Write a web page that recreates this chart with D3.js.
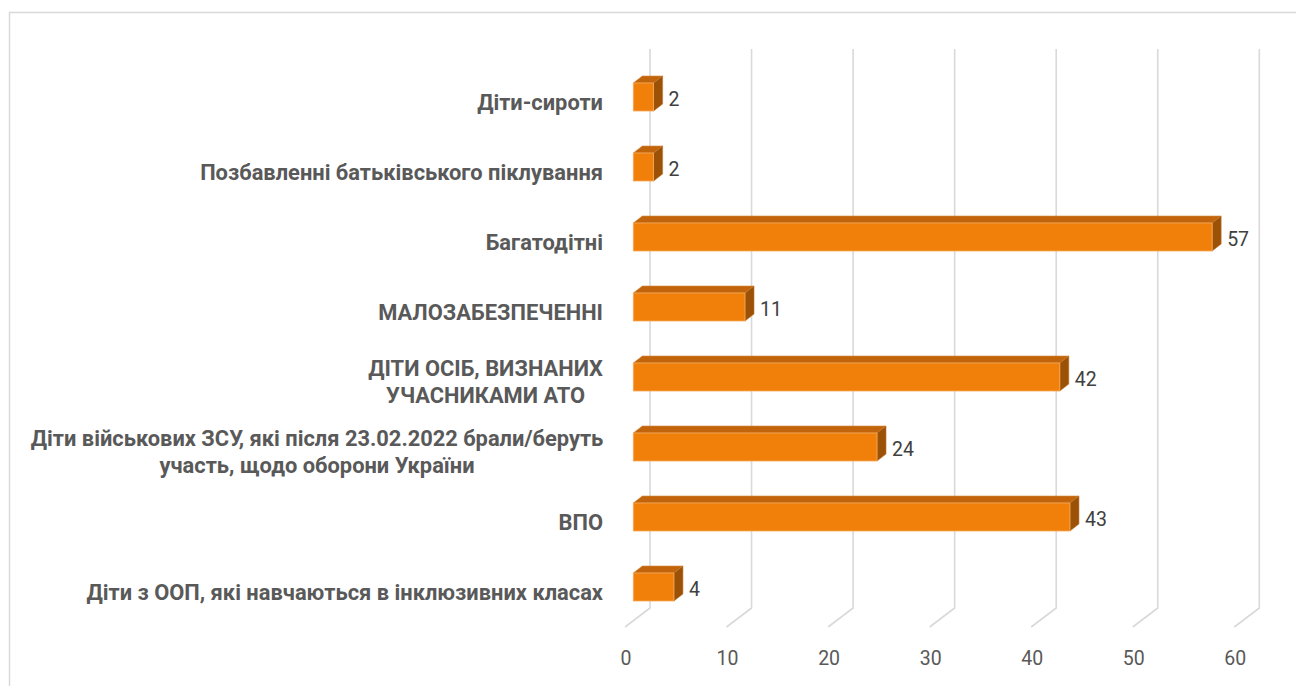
<!DOCTYPE html>
<html>
<head>
<meta charset="utf-8">
<script src="https://cdn.jsdelivr.net/npm/d3@7"></script>
<style>
    body { margin: 0; background: #fff; }
    svg { display: block; font-family: Roboto, "Open Sans", "Noto Sans", sans-serif; }
</style>
</head>
<body>
<div id="chart"></div>
<script>
var categories = [
    "Діти-сироти",
    "Позбавленні батьківського піклування",
    "Багатодітні",
    "МАЛОЗАБЕЗПЕЧЕННІ",
    "ДІТИ ОСІБ, ВИЗНАНИХ\nУЧАСНИКАМИ АТО",
    "Діти військових ЗСУ, які після 23.02.2022 брали/беруть\nучасть, щодо оборони України",
    "ВПО",
    "Діти з ООП, які навчаються в інклюзивних класах"
];
var values = [2, 2, 57, 11, 42, 24, 43, 4];
var tickValues = [0, 10, 20, 30, 40, 50, 60];


barChart3d = function(_parentElement, _data){
    this.parentElement = _parentElement;
    this.data = _data;

    this.initVis();
}


barChart3d.prototype.initVis = function() {
    var vis = this;

    vis.width = 1296;
    vis.height = 686;

    vis.svg = d3.select("#" + vis.parentElement).append("svg")
        .attr("width", vis.width)
        .attr("height", vis.height);

    // chart frame, runs off the page on the right and bottom
    vis.svg.append("rect")
        .attr("x", 9.5)
        .attr("y", 12.5)
        .attr("width", 1320)
        .attr("height", 720)
        .attr("fill", "none")
        .attr("stroke", "#d9d9d9")
        .attr("stroke-width", 1.5);

    // back wall and floor depth
    vis.wall = { x: 650, top: 49, bottom: 608 };
    vis.floor = { dx: -25, dy: 19 };
    // bar front plane and its depth
    vis.barLeft = 633.3;
    vis.barDepth = { dx: 9, dy: -7 };

    vis.x = d3.scaleLinear()
        .domain([0, 60])
        .range([0, 609.3]);

    vis.y = d3.scaleBand()
        .domain(vis.data.map(function(d) { return d.category; }))
        .range([62, 622])
        .paddingInner(0.6)
        .paddingOuter(0.3);

    vis.updateVis();
}


barChart3d.prototype.updateVis = function() {
    var vis = this;

    // gridlines: up the back wall, then forward across the floor
    vis.svg.append("g")
        .attr("class", "grid")
        .selectAll("path")
        .data(tickValues)
        .enter()
        .append("path")
        .attr("d", function(t) {
            var bx = vis.wall.x + vis.x(t);
            return "M" + bx + "," + vis.wall.top +
                "L" + bx + "," + vis.wall.bottom +
                "L" + (bx + vis.floor.dx) + "," + (vis.wall.bottom + vis.floor.dy);
        })
        .attr("fill", "none")
        .attr("stroke", "#d9d9d9")
        .attr("stroke-width", 1.6);

    vis.svg.append("g")
        .attr("class", "x-axis")
        .selectAll("text")
        .data(tickValues)
        .enter()
        .append("text")
        .attr("x", function(t) { return vis.wall.x + vis.floor.dx + vis.x(t) + 1; })
        .attr("y", 658)
        .attr("text-anchor", "middle")
        .attr("dominant-baseline", "central")
        .attr("fill", "#595959")
        .style("font-size", "19.5px")
        .text(function(t) { return t; });

    var bars = vis.svg.append("g")
        .attr("class", "bars")
        .selectAll("g")
        .data(vis.data)
        .enter()
        .append("g");

    var dx = vis.barDepth.dx, dy = vis.barDepth.dy;

    // top face
    bars.append("path")
        .attr("d", function(d) {
            var x0 = vis.barLeft, x1 = vis.barLeft + vis.x(d.value), y0 = vis.y(d.category);
            return "M" + x0 + "," + y0 + "L" + x1 + "," + y0 +
                "L" + (x1 + dx) + "," + (y0 + dy) + "L" + (x0 + dx) + "," + (y0 + dy) + "Z";
        })
        .attr("fill", "#c1640b")
        .attr("stroke", "#d98a3c")
        .attr("stroke-width", 0.6);

    // end face
    bars.append("path")
        .attr("d", function(d) {
            var x1 = vis.barLeft + vis.x(d.value), y0 = vis.y(d.category), y1 = y0 + vis.y.bandwidth();
            return "M" + x1 + "," + y0 + "L" + (x1 + dx) + "," + (y0 + dy) +
                "L" + (x1 + dx) + "," + (y1 + dy) + "L" + x1 + "," + y1 + "Z";
        })
        .attr("fill", "#9b5207")
        .attr("stroke", "#c0742a")
        .attr("stroke-width", 0.6);

    // front face
    bars.append("rect")
        .attr("x", vis.barLeft)
        .attr("y", function(d) { return vis.y(d.category); })
        .attr("width", function(d) { return vis.x(d.value); })
        .attr("height", vis.y.bandwidth())
        .attr("fill", "#f0800a")
        .attr("stroke", "#f6aa5c")
        .attr("stroke-width", 0.8);

    bars.append("text")
        .attr("class", "value")
        .attr("x", function(d) { return vis.barLeft + vis.x(d.value) + dx + 6; })
        .attr("y", function(d) { return vis.y(d.category) + vis.y.bandwidth() / 2 + 2; })
        .attr("dominant-baseline", "central")
        .attr("fill", "#404040")
        .style("font-size", "19.5px")
        .text(function(d) { return d.value; });

    // category labels, wrapped lines centred within the block
    var labelRight = 603;
    var lineHeight = 27;
    var labels = vis.svg.append("g")
        .attr("class", "y-axis")
        .selectAll("text")
        .data(vis.data)
        .enter()
        .append("text")
        .attr("fill", "#595959")
        .attr("font-weight", "bold")
        .attr("text-anchor", "middle")
        .attr("dominant-baseline", "central")
        .style("font-size", "18px");

    labels.each(function(d) {
        var lines = d.category.split("\n");
        var el = d3.select(this);
        lines.forEach(function(line, i) {
            el.append("tspan").text(line);
        });
    });

    // fit the label font to the widest line in the picture (572px)
    var widest = 0;
    labels.selectAll("tspan").each(function() {
        widest = Math.max(widest, this.getComputedTextLength());
    });
    var fontSize = 18 * 572 / widest;
    labels.style("font-size", fontSize + "px");

    labels.each(function(d) {
        var el = d3.select(this);
        var spans = el.selectAll("tspan");
        var n = spans.size();
        var w = 0;
        spans.each(function() { w = Math.max(w, this.getComputedTextLength()); });
        var cy = vis.y(d.category) + vis.y.bandwidth() / 2 + 4.5;
        spans
            .attr("x", labelRight - w / 2)
            .attr("y", function(s, i) { return cy + (i - (n - 1) / 2) * lineHeight; });
    });
}


var chartData = categories.map(function(c, i) {
    return { category: c, value: values[i] };
});

var chart = new barChart3d("chart", chartData);
</script>
</body>
</html>
